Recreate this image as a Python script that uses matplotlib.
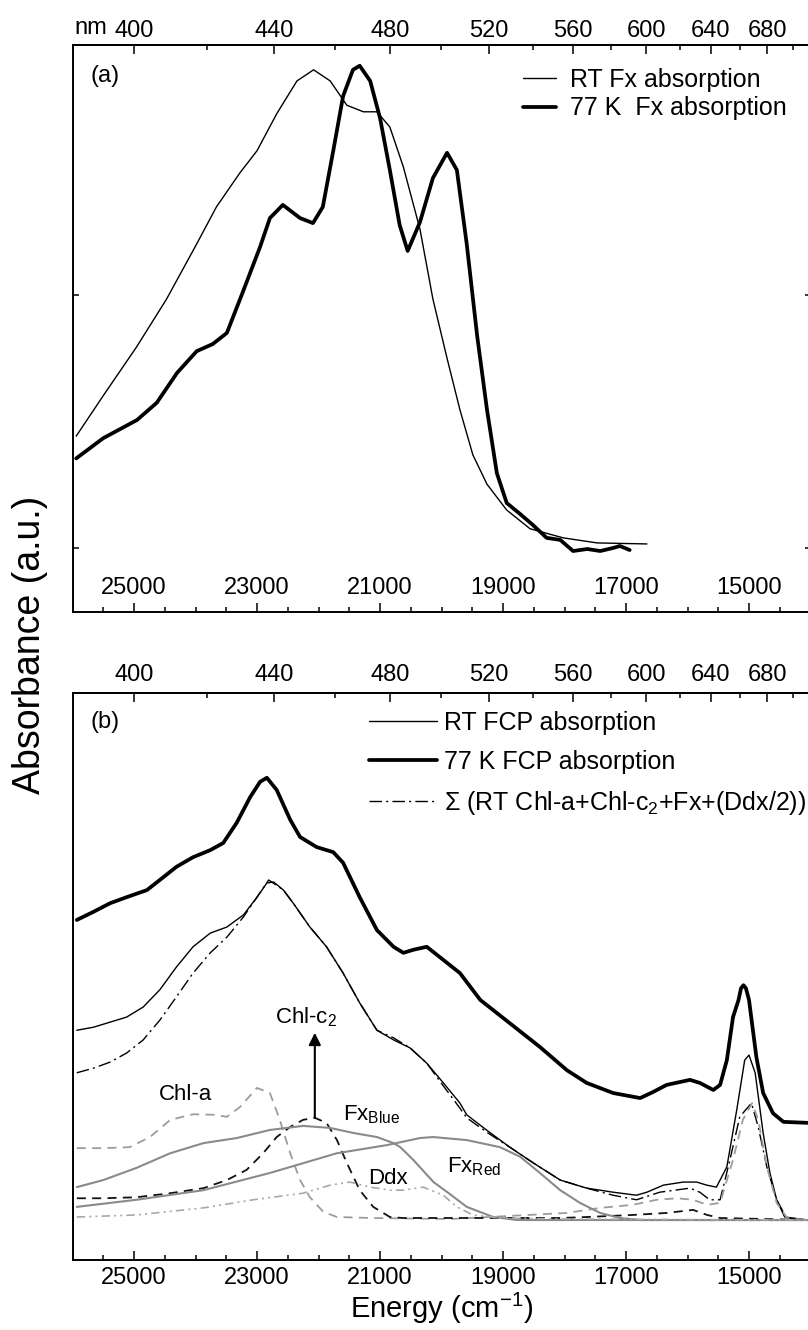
import numpy as np
import matplotlib
matplotlib.use("Agg")
import matplotlib.pyplot as plt
from matplotlib.ticker import FixedLocator, NullFormatter

plt.rcParams["font.family"] = ["Liberation Sans", "DejaVu Sans"]
plt.rcParams["mathtext.fontset"] = "custom"
plt.rcParams["mathtext.rm"] = "Liberation Sans"
plt.rcParams["mathtext.it"] = "Liberation Sans:italic"
plt.rcParams["mathtext.bf"] = "Liberation Sans:bold"
plt.rcParams["lines.solid_joinstyle"] = "round"
plt.rcParams["lines.solid_capstyle"] = "round"

# ---- panel (a): Fx in solution (energy in cm-1, absorbance a.u.) ----
rt_fx_energy = [25940, 25500, 24960, 24470, 23980, 23660, 23280, 23000, 22680,
                22350, 22080, 21810, 21540, 21270, 21050, 20840, 20620, 20350,
                20140, 19910, 19700, 19490, 19260, 18940, 18560, 18020, 17470,
                16660]
rt_fx_abs = [0.221, 0.301, 0.397, 0.492, 0.601, 0.674, 0.741, 0.785, 0.858,
             0.923, 0.945, 0.923, 0.875, 0.862, 0.862, 0.832, 0.753, 0.630,
             0.492, 0.375, 0.273, 0.184, 0.126, 0.075, 0.038, 0.020, 0.010,
             0.008]

k77_fx_energy = [25940, 25500, 24950, 24630, 24300, 23980, 23720, 23490, 23230,
                 22950, 22790, 22580, 22300, 22090, 21930, 21760, 21600, 21440,
                 21330, 21160, 21000, 20840, 20680, 20550, 20350, 20140, 19910,
                 19750, 19590, 19420, 19260, 19100, 18940, 18720, 18510, 18290,
                 18070, 17860, 17630, 17420, 17210, 17100, 16940]
k77_fx_abs = [0.177, 0.217, 0.253, 0.287, 0.346, 0.389, 0.403, 0.425, 0.506,
              0.595, 0.652, 0.678, 0.652, 0.642, 0.674, 0.785, 0.893, 0.945,
              0.953, 0.923, 0.850, 0.747, 0.638, 0.587, 0.644, 0.731, 0.781,
              0.747, 0.601, 0.419, 0.273, 0.148, 0.089, 0.067, 0.045, 0.020,
              0.016, -0.006, -0.002, -0.006, 0.000, 0.004, -0.004]

# ---- panel (b): FCP and pigment components ----
k77_fcp_energy = [25930, 25660, 25390, 25120, 24790, 24580, 24310, 24040, 23760,
                  23550, 23330, 23110, 22950, 22840, 22680, 22460, 22300, 22030,
                  21760, 21600, 21330, 21050, 20780, 20620, 20460, 20240, 19970,
                  19700, 19370, 18890, 18400, 17960, 17640, 17210, 16770, 16560,
                  16340, 15960, 15800, 15580, 15470, 15360, 15260, 15170, 15130,
                  15090, 15050, 15000, 14880, 14770, 14610, 14440, 14040]
k77_fcp_abs = [0.593, 0.609, 0.626, 0.638, 0.652, 0.672, 0.698, 0.717, 0.731,
               0.745, 0.785, 0.836, 0.866, 0.874, 0.850, 0.791, 0.757, 0.737,
               0.727, 0.706, 0.638, 0.573, 0.540, 0.528, 0.534, 0.540, 0.514,
               0.488, 0.435, 0.389, 0.342, 0.296, 0.271, 0.251, 0.241, 0.253,
               0.267, 0.277, 0.271, 0.257, 0.267, 0.316, 0.401, 0.435, 0.458,
               0.464, 0.458, 0.435, 0.322, 0.251, 0.211, 0.194, 0.192]

rt_fcp_energy = [25930, 25660, 25390, 25120, 24850, 24580, 24310, 24040, 23760,
                 23490, 23220, 23000, 22840, 22730, 22570, 22410, 22140, 21870,
                 21600, 21330, 21050, 20780, 20510, 20240, 19970, 19700, 19590,
                 19270, 18890, 18510, 18070, 17640, 17210, 16830, 16660, 16390,
                 16070, 15850, 15690, 15530, 15360, 15200, 15070, 15000, 14900,
                 14770, 14660, 14550, 14420, 14040]
rt_fcp_abs = [0.375, 0.381, 0.391, 0.401, 0.421, 0.455, 0.500, 0.540, 0.567,
              0.579, 0.603, 0.638, 0.666, 0.668, 0.652, 0.626, 0.579, 0.540,
              0.488, 0.429, 0.375, 0.356, 0.340, 0.310, 0.271, 0.231, 0.208,
              0.178, 0.144, 0.113, 0.079, 0.063, 0.055, 0.049, 0.055, 0.069,
              0.075, 0.075, 0.069, 0.065, 0.105, 0.217, 0.316, 0.326, 0.291,
              0.172, 0.093, 0.040, 0.006, 0.000]

sum_energy = [25930, 25660, 25390, 25120, 24850, 24580, 24310, 24040, 23760,
              23490, 23220, 23000, 22810, 22570, 22410, 22140, 21870, 21600,
              21330, 21050, 20780, 20510, 20240, 19970, 19700, 19590, 19270,
              18890, 18510, 18070, 17640, 17210, 16830, 16450, 15960, 15800,
              15640, 15470, 15310, 15150, 14960, 14850, 14710, 14550, 14390,
              14040]
sum_abs = [0.291, 0.300, 0.312, 0.330, 0.356, 0.395, 0.441, 0.488, 0.528,
           0.559, 0.599, 0.638, 0.672, 0.652, 0.626, 0.579, 0.540, 0.488,
           0.429, 0.375, 0.360, 0.340, 0.310, 0.265, 0.221, 0.202, 0.174,
           0.144, 0.113, 0.079, 0.063, 0.049, 0.040, 0.055, 0.063, 0.055,
           0.040, 0.040, 0.119, 0.204, 0.231, 0.184, 0.105, 0.040, 0.004,
           0.000]

chla_energy = [25930, 25500, 25070, 24740, 24410, 24040, 23710, 23490, 23280,
               23000, 22790, 22630, 22460, 22300, 22140, 21920, 21700, 21160,
               19860, 17960, 17420, 16890, 16500, 16170, 15910, 15680, 15470,
               15260, 15100, 14950, 14850, 14710, 14550, 14380, 14040]
chla_abs = [0.142, 0.142, 0.144, 0.164, 0.198, 0.209, 0.208, 0.204, 0.223,
            0.261, 0.251, 0.198, 0.132, 0.079, 0.045, 0.016, 0.006, 0.004,
            0.002, 0.014, 0.024, 0.030, 0.040, 0.043, 0.040, 0.030, 0.034,
            0.119, 0.198, 0.231, 0.198, 0.105, 0.034, 0.004, 0.000]

chlc2_energy = [25930, 25500, 24960, 24410, 23870, 23490, 23170, 22900, 22680,
                22460, 22250, 22060, 21870, 21700, 21540, 21330, 21110, 20840,
                20630, 18070, 17630, 16890, 16340, 15910, 15680, 15470, 14040]
chlc2_abs = [0.043, 0.043, 0.045, 0.053, 0.063, 0.079, 0.099, 0.132, 0.164,
             0.184, 0.198, 0.202, 0.192, 0.158, 0.113, 0.059, 0.026, 0.006,
             0.004, 0.004, 0.006, 0.010, 0.014, 0.020, 0.010, 0.004, 0.000]

fx_blue_energy = [25930, 25500, 24960, 24410, 23870, 23330, 22790, 22250, 21810,
                  21430, 21050, 20780, 20670, 20460, 20130, 19860, 19590, 19160,
                  18770, 14040]
fx_blue_abs = [0.065, 0.079, 0.103, 0.132, 0.152, 0.162, 0.178, 0.186, 0.182,
               0.172, 0.164, 0.152, 0.144, 0.119, 0.075, 0.051, 0.026, 0.006,
               0.000, 0.000]

fx_red_energy = [25930, 24960, 23870, 22790, 21700, 20890, 20350, 20140, 19590,
                 19050, 18720, 18400, 18070, 17750, 17420, 17100, 16770, 14040]
fx_red_abs = [0.026, 0.040, 0.059, 0.093, 0.132, 0.148, 0.162, 0.164, 0.158,
              0.144, 0.125, 0.093, 0.059, 0.034, 0.014, 0.004, 0.000, 0.000]

ddx_energy = [25930, 24960, 23870, 23060, 22250, 21810, 21490, 21160, 20840,
              20620, 20300, 19970, 19750, 19490, 19050, 18070, 14040]
ddx_abs = [0.006, 0.010, 0.024, 0.040, 0.053, 0.069, 0.075, 0.065, 0.059,
           0.059, 0.065, 0.049, 0.026, 0.010, 0.004, 0.002, 0.000]

# ---- axes ticks ----
energy_ticks = [25000, 23000, 21000, 19000, 17000, 15000]
energy_minor = np.arange(14500, 26000, 500)
nm_ticks = [400, 440, 480, 520, 560, 600, 640, 680]
nm_minor = [420, 460, 500, 540, 580, 620, 660, 700]

THIN = 1.0
THICK = 2.7
GRAY = "#8a8a8a"
LIGHT = "#9c9c9c"


def e2nm(e):
    e = np.asarray(e, dtype=float)
    with np.errstate(divide="ignore", invalid="ignore"):
        return 1e7 / e


W, H = 808, 1330
fig = plt.figure(figsize=(W / 100, H / 100), dpi=100)

ax_a = fig.add_axes([72.5 / W, 1 - 612 / H, 738 / W, 567 / H])
ax_b = fig.add_axes([72.5 / W, 1 - 1260 / H, 738 / W, 567 / H])

for ax in (ax_a, ax_b):
    ax.set_xlim(26000, 14000)
    for s in ax.spines.values():
        s.set_linewidth(1.4)
    ax.set_xticks(energy_ticks)
    ax.xaxis.set_minor_locator(FixedLocator(energy_minor))
    ax.tick_params(axis="x", which="both", direction="in", top=False,
                   labelsize=17, width=1.1)
    ax.tick_params(axis="x", which="major", length=6.5)
    ax.tick_params(axis="x", which="minor", length=3.3)

    sec = ax.secondary_xaxis("top", functions=(e2nm, e2nm))
    sec.set_xticks(nm_ticks)
    sec.xaxis.set_minor_locator(FixedLocator(nm_minor))
    sec.xaxis.set_minor_formatter(NullFormatter())
    sec.tick_params(which="both", direction="in", labelsize=17, width=1.1)
    sec.tick_params(which="major", length=6.5,
                    pad=2 if ax is ax_a else 5)
    sec.tick_params(which="minor", length=3.3)
    sec.spines["top"].set_linewidth(1.4)

# panel (a)
ax_a.plot(rt_fx_energy, rt_fx_abs, color="black", lw=THIN,
          label="RT Fx absorption")
ax_a.plot(k77_fx_energy, k77_fx_abs, color="black", lw=THICK,
          label="77 K  Fx absorption")
ax_a.set_ylim(-0.1265, 0.994)
ax_a.set_yticks([0, 0.5])
ax_a.tick_params(axis="y", direction="in", left=True, right=True,
                 labelleft=False, length=4, width=1.1)
ax_a.tick_params(axis="x", pad=-25)
ax_a.text(0.024, 0.945, "(a)", transform=ax_a.transAxes, fontsize=17,
          ha="left", va="center")
ax_a.text(0.003, 1.03, "nm", transform=ax_a.transAxes, fontsize=17,
          ha="left", va="center")
ax_a.legend(loc="upper left", bbox_to_anchor=(523 / W, 1 - 68 / H),
            bbox_transform=fig.transFigure, frameon=False, fontsize=18,
            handlelength=1.3, handletextpad=0.6, labelspacing=0.18,
            borderpad=0, borderaxespad=0)

# panel (b)
ax_b.plot(rt_fcp_energy, rt_fcp_abs, color="black", lw=THIN,
          label="RT FCP absorption")
ax_b.plot(k77_fcp_energy, k77_fcp_abs, color="black", lw=THICK,
          label="77 K FCP absorption")
ax_b.plot(sum_energy, sum_abs, color="black", lw=THIN,
          linestyle=(0, (9, 3, 1.5, 3)),
          label="\u03a3 (RT Chl-a+Chl-c$_2$+Fx+(Ddx/2))")
ax_b.plot(chla_energy, chla_abs, color=LIGHT, lw=1.3, linestyle=(0, (5, 3.5)))
ax_b.plot(chlc2_energy, chlc2_abs, color="#111111", lw=1.3,
          linestyle=(0, (5, 3.5)))
ax_b.plot(fx_blue_energy, fx_blue_abs, color=GRAY, lw=1.5)
ax_b.plot(fx_red_energy, fx_red_abs, color=GRAY, lw=1.5)
ax_b.plot(ddx_energy, ddx_abs, color="#a8a8a8", lw=1.2,
          linestyle=(0, (5, 2.5, 1.2, 2.5, 1.2, 2.5)))
ax_b.set_ylim(-0.079, 1.0415)
ax_b.set_yticks([])
ax_b.tick_params(axis="x", pad=5)

ax_b.text(24170, 0.237, "Chl-a", fontsize=16, ha="center", va="baseline")
ax_b.text(22710, 0.389, "Chl-c$_2$", fontsize=16, ha="left", va="baseline")
ax_b.annotate("", xy=(22060, 0.370), xytext=(22060, 0.202),
              arrowprops=dict(arrowstyle="-|>", lw=1.5, color="black",
                              mutation_scale=18, shrinkA=0, shrinkB=0))
ax_b.text(21600, 0.196, "Fx$_{\\mathrm{Blue}}$", fontsize=16, ha="left",
          va="baseline")
ax_b.text(20870, 0.071, "Ddx", fontsize=16, ha="center", va="baseline")
ax_b.text(19910, 0.095, "Fx$_{\\mathrm{Red}}$", fontsize=16, ha="left",
          va="baseline")
ax_b.text(0.024, 0.949, "(b)", transform=ax_b.transAxes, fontsize=17,
          ha="left", va="center")
ax_b.legend(loc="upper left", bbox_to_anchor=(369 / W, 1 - 711 / H),
            bbox_transform=fig.transFigure, frameon=False, fontsize=18,
            handlelength=2.72, handletextpad=0.28, labelspacing=0.6,
            borderpad=0, borderaxespad=0)

ax_b.set_xlabel("Energy (cm$^{-1}$)", fontsize=21, labelpad=1)
fig.text(30 / W, 1 - 645 / H, "Absorbance (a.u.)", rotation=90,
         fontsize=27, ha="center", va="center")

fig.savefig("out.png", dpi=100)
